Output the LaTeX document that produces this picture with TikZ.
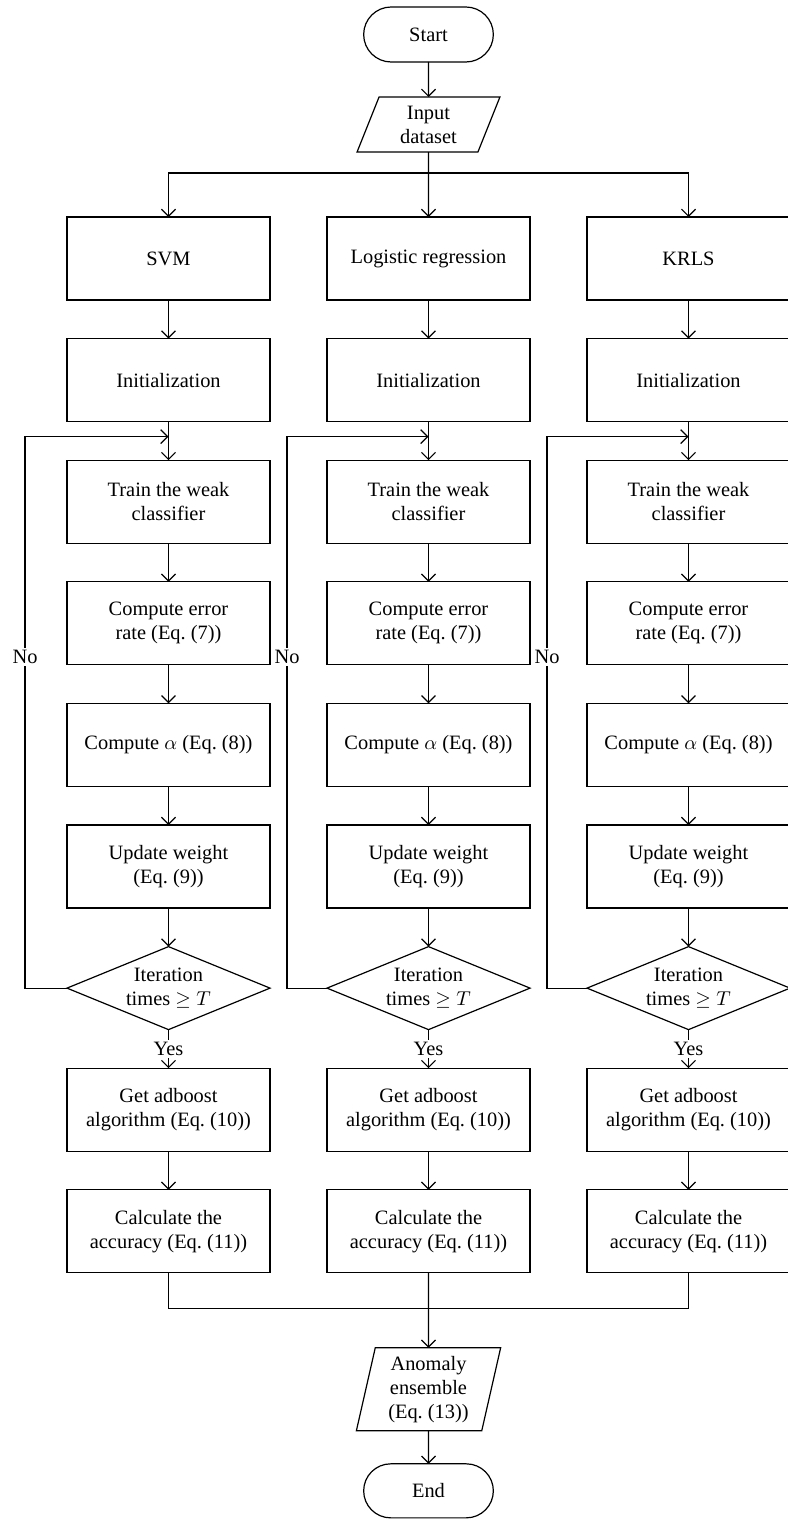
\documentclass[tikz,border=0pt]{standalone}
\usepackage{fontspec}
\setmainfont{Liberation Serif}
\usetikzlibrary{arrows.meta,shapes.geometric,shapes.misc,positioning}

\begin{document}
\begin{tikzpicture}[line width=0.6pt,
>={Straight Barb[length=3.5pt,width=7pt]},
node distance=19.3pt and 28.5pt,
every node/.style={font=\fontsize{10.2}{12}\selectfont,outer sep=0pt},
box/.style={rectangle,draw,minimum width=101.5pt,minimum height=41.5pt,
  align=center,inner sep=2pt},
term/.style={rounded rectangle,draw,minimum width=71.5pt,minimum height=27.5pt},
io/.style={trapezium,trapezium left angle=72,trapezium right angle=108,
  trapezium stretches=true,draw,minimum width=71.5pt,minimum height=27.5pt,
  align=center,inner sep=1pt},
test/.style={diamond,aspect=2.5,draw,minimum width=101.5pt,minimum height=41.5pt,
  inner sep=0pt,align=center},
lbl/.style={fill=white,inner sep=1pt}]
\useasboundingbox (0,0) rectangle (393.5pt,-759.5pt);
\node [term] (start) at (214.25pt,-17.25pt) {Start};
\node [io,below=17.5pt of start] (in) {Input\\dataset};
\node [box,below=32.5pt of in] (lr) {Logistic regression};
\node [box,left=of lr] (svm) {SVM};
\node [box,right=of lr] (krls) {KRLS};
% SVM
\node [box,below=of svm] (init1) {Initialization};
\node [box,below=of init1] (train1) {Train the weak\\classifier};
\node [box,below=of train1] (err1) {Compute error\\rate (Eq.~(7))};
\node [box,below=of err1] (alpha1) {Compute $\alpha$ (Eq.~(8))};
\node [box,below=of alpha1] (upd1) {Update weight\\(Eq.~(9))};
\node [test,below=of upd1] (it1) {Iteration\\times $\geq T$};
\node [box,below=of it1] (get1) {Get adboost\\algorithm (Eq.~(10))};
\node [box,below=of get1] (acc1) {Calculate the\\accuracy (Eq.~(11))};
% logistic regression
\node [box,below=of lr] (init2) {Initialization};
\node [box,below=of init2] (train2) {Train the weak\\classifier};
\node [box,below=of train2] (err2) {Compute error\\rate (Eq.~(7))};
\node [box,below=of err2] (alpha2) {Compute $\alpha$ (Eq.~(8))};
\node [box,below=of alpha2] (upd2) {Update weight\\(Eq.~(9))};
\node [test,below=of upd2] (it2) {Iteration\\times $\geq T$};
\node [box,below=of it2] (get2) {Get adboost\\algorithm (Eq.~(10))};
\node [box,below=of get2] (acc2) {Calculate the\\accuracy (Eq.~(11))};
% KRLS
\node [box,below=of krls] (init3) {Initialization};
\node [box,below=of init3] (train3) {Train the weak\\classifier};
\node [box,below=of train3] (err3) {Compute error\\rate (Eq.~(7))};
\node [box,below=of err3] (alpha3) {Compute $\alpha$ (Eq.~(8))};
\node [box,below=of alpha3] (upd3) {Update weight\\(Eq.~(9))};
\node [test,below=of upd3] (it3) {Iteration\\times $\geq T$};
\node [box,below=of it3] (get3) {Get adboost\\algorithm (Eq.~(10))};
\node [box,below=of get3] (acc3) {Calculate the\\accuracy (Eq.~(11))};
% ensemble
\node [io,trapezium left angle=78,trapezium right angle=102,minimum width=72.5pt,
  minimum height=41.5pt,below=37.5pt of acc2] (anom) {Anomaly\\ensemble\\(Eq.~(13))};
\node [term,minimum height=27pt,below=16.5pt of anom] (stop) {End};

\draw[->] (start) -- (in);
\draw (in.south) -- ++(down:10.5pt) coordinate (split);
\draw[->] (split) -| (svm.north);
\draw[->] (split) -| (krls.north);
\draw[->] (in) -- (lr);
\draw[->] (svm) edge (init1) (init1) edge (train1) (train1) edge (err1)
  (err1) edge (alpha1) (alpha1) edge (upd1) (upd1) edge (it1)
  (it1) edge node[lbl] {Yes} (get1) (get1) edge (acc1);
\draw[->] (lr) edge (init2) (init2) edge (train2) (train2) edge (err2)
  (err2) edge (alpha2) (alpha2) edge (upd2) (upd2) edge (it2)
  (it2) edge node[lbl] {Yes} (get2) (get2) edge (acc2);
\draw[->] (krls) edge (init3) (init3) edge (train3) (train3) edge (err3)
  (err3) edge (alpha3) (alpha3) edge (upd3) (upd3) edge (it3)
  (it3) edge node[lbl] {Yes} (get3) (get3) edge (acc3);
% back to training
\draw[->] (it1.west) -- ++(left:21pt) |- node[lbl,pos=0.3] {No} ([yshift=-7.5pt]init1.south);
\draw[->] (it2.west) -- ++(left:20pt) |- node[lbl,pos=0.3] {No} ([yshift=-7.5pt]init2.south);
\draw[->] (it3.west) -- ++(left:20pt) |- node[lbl,pos=0.3] {No} ([yshift=-7.5pt]init3.south);
\draw (acc1.south) -- ++(down:18pt) -| (acc3.south);
\draw[->] (acc2) -- (anom);
\draw[->] (anom) -- (stop);
\end{tikzpicture}
\end{document}
